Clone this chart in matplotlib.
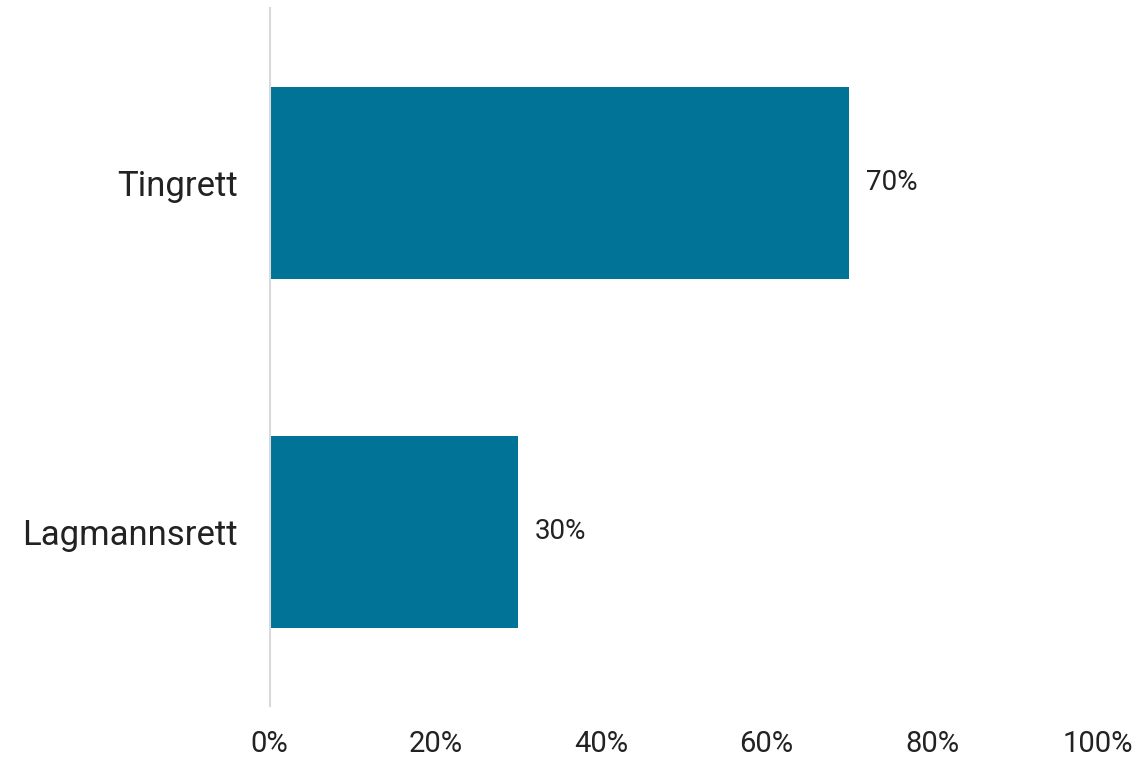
import matplotlib
matplotlib.use("Agg")
import matplotlib.pyplot as plt
from matplotlib.ticker import FuncFormatter

# data
categories = ["Tingrett", "Lagmannsrett"]
shares = [70, 30]
x_ticks = [0, 20, 40, 60, 80, 100]

plt.rcParams['font.family'] = ['Roboto', 'DejaVu Sans']

fig = plt.figure(figsize=(11.43, 7.61), dpi=100)
ax = fig.add_axes([0.236, 0.072, 0.7244, 0.917])

ypos = list(range(len(categories)))
ax.barh(ypos, shares, height=0.55, color="#007397")

for y, v in zip(ypos, shares):
    ax.text(v + 2, y, f"{v}%", va="center", ha="left", fontsize=20, color="#222222")

ax.set_yticks(ypos)
ax.set_yticklabels(categories, fontsize=25, color="#222222")
ax.set_ylim(1.5, -0.5)
ax.set_xlim(0, 100)
ax.set_xticks(x_ticks)
ax.xaxis.set_major_formatter(FuncFormatter(lambda v, p: f"{v:.0f}%"))
ax.tick_params(axis="x", labelsize=21, colors="#222222", length=0, pad=17)
ax.tick_params(axis="y", length=0, pad=23)

for s in ["top", "right", "bottom"]:
    ax.spines[s].set_visible(False)
ax.spines["left"].set_color("#d9d9d9")
ax.spines["left"].set_linewidth(1.5)

fig.savefig("out.png", dpi=100)
